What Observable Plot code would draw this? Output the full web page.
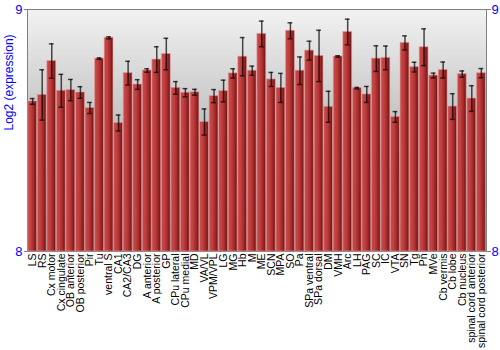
<!DOCTYPE html>
<html>
<head>
<meta charset="utf-8">
<script src="https://cdn.jsdelivr.net/npm/d3@7"></script>
<script src="https://cdn.jsdelivr.net/npm/@observablehq/plot@0.6"></script>
<style>
body { margin: 0; background: #fff; }
#chart svg, #chart svg text { font-family: "Liberation Sans", Arial, sans-serif !important; }
</style>
</head>
<body>
<div id="chart"></div>
<script>
const regions = ["LS","RS","Cx motor","Cx cingulate","OB anterior","OB posterior","Pir","Tu","ventral S","CA1","CA2/CA3","DG","A anterior","A posterior","GP","CPu lateral","CPu medial","MD","VA/VL","VPM/VPL","LG","MG","Hb","M","ME","SCN","MPA","SO","Pa","SPa ventral","SPa dorsal","DM","VMH","Arc","LH","PAG","SC","IC","VTA","SN","Tg","Pn","MVe","Cb vermis","Cb lobe","Cb nucleus","spinal cord anterior","spinal cord posterior"];
const expression = [8.620,8.647,8.787,8.664,8.667,8.657,8.593,8.797,8.883,8.531,8.737,8.690,8.748,8.793,8.816,8.676,8.656,8.658,8.535,8.642,8.663,8.736,8.805,8.747,8.899,8.711,8.676,8.912,8.747,8.830,8.808,8.598,8.806,8.907,8.675,8.649,8.797,8.800,8.556,8.862,8.762,8.844,8.727,8.750,8.599,8.733,8.632,8.737];
const errors = [0.012,0.104,0.071,0.068,0.044,0.024,0.023,0.003,0.004,0.033,0.049,0.020,0.007,0.053,0.065,0.026,0.017,0.012,0.054,0.027,0.045,0.019,0.079,0.019,0.053,0.029,0.060,0.033,0.057,0.039,0.106,0.064,0.003,0.053,0.003,0.033,0.053,0.049,0.022,0.029,0.020,0.076,0.010,0.033,0.053,0.013,0.053,0.019];
const yTicks = [8, 9];
const yLabel = "Log2 (expression)";

const table = regions.map((r, i) => ({region: r, value: expression[i], err: errors[i]}));

const chart = Plot.plot({
  width: 500,
  height: 350,
  marginLeft: 27,
  marginRight: 14,
  marginTop: 9,
  marginBottom: 99,
  style: {fontSize: "10.5px", background: "white"},
  x: {domain: regions, padding: 0.08, round: false, label: null},
  y: {domain: [8, 9], label: null},
  marks: [
    Plot.frame({fill: "url(#bgGrad)", stroke: "#808080"}),
    Plot.barY(table, {x: "region", y1: 8, y2: "value", fill: "url(#barGrad)", stroke: "#e89a9a", strokeOpacity: 0.6, strokeWidth: 1}),
    Plot.ruleX(table, {x: "region", y1: d => d.value - d.err, y2: d => d.value + d.err, stroke: "black", strokeOpacity: 0.7, strokeWidth: 1.5}),
    Plot.tickY(table, {x: "region", y: d => d.value + d.err, stroke: "black", strokeOpacity: 0.7, strokeWidth: 1.5, insetLeft: 2, insetRight: 2}),
    Plot.tickY(table, {x: "region", y: d => d.value - d.err, stroke: "black", strokeOpacity: 0.7, strokeWidth: 1.5, insetLeft: 2, insetRight: 2}),
    Plot.axisY({anchor: "left", ticks: yTicks, tickFormat: d3.format("d"), tickSize: 3, tickPadding: 2, fontSize: 13, color: "blue", stroke: "#808080", label: null}),
    Plot.axisY({anchor: "right", ticks: yTicks, tickFormat: d3.format("d"), tickSize: 4, tickPadding: 1, fontSize: 13, color: "blue", stroke: "#808080", label: null}),
    Plot.axisX({tickRotate: -90, tickSize: 0, tickPadding: 2, fontSize: 10.5, fill: "black", label: null}),
    Plot.text([yLabel], {text: d => d, frameAnchor: "left", rotate: -90, dx: -18, fill: "blue", fontSize: 12})
  ]
});

const ns = "http://www.w3.org/2000/svg";
const defs = document.createElementNS(ns, "defs");
defs.innerHTML = `
<linearGradient id="bgGrad" x1="0" y1="0" x2="0" y2="1">
  <stop offset="0" stop-color="#f2f2f2"/>
  <stop offset="0.45" stop-color="#c4c4c4"/>
  <stop offset="1" stop-color="#8c8c8c"/>
</linearGradient>
<linearGradient id="barGrad" x1="0" y1="0" x2="1" y2="0">
  <stop offset="0" stop-color="#c94a4a"/>
  <stop offset="0.35" stop-color="#c04040"/>
  <stop offset="0.7" stop-color="#a02828"/>
  <stop offset="1" stop-color="#6a1010"/>
</linearGradient>`;
chart.insertBefore(defs, chart.firstChild);
document.getElementById("chart").appendChild(chart);
</script>
</body>
</html>
